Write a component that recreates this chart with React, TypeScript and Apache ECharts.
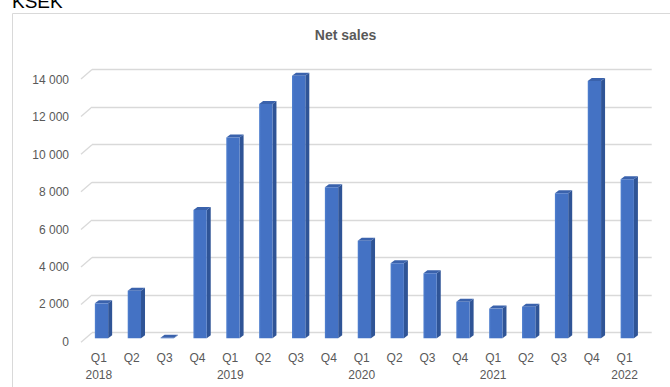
import React, { useEffect, useRef } from "react";
import * as echarts from "echarts";

const quarters = ["Q1", "Q2", "Q3", "Q4", "Q1", "Q2", "Q3", "Q4", "Q1", "Q2", "Q3", "Q4", "Q1", "Q2", "Q3", "Q4", "Q1"];
const years = ["2018", "", "", "", "2019", "", "", "", "2020", "", "", "", "2021", "", "", "", "2022"];
const netSales = [1860, 2530, 30, 6820, 10680, 12460, 13970, 8040, 5190, 3990, 3460, 1940, 1580, 1680, 7710, 13680, 8460];
const yTicks = [0, 2000, 4000, 6000, 8000, 10000, 12000, 14000];

const LABEL = "#595959";
const GRID = "#d9d9d9";
const FONT = "'Liberation Sans', Arial, sans-serif";

export default function App() {
  const ref = useRef<HTMLDivElement>(null);
  useEffect(() => {
    if (!ref.current) return;
    const chart = echarts.init(ref.current, undefined, { renderer: "svg" });
    const barW = 13.3;
    const dx = 4;
    const dy = -3;
    const option: any = {
      animation: false,
      grid: [
        { left: 85.07, right: 26.3, top: 75.1, bottom: 48.7 },
        { left: 92, right: 18.3, top: 69.5, bottom: 54.3 },
        { left: 81, right: 18, top: 80, bottom: 45.3 },
        { left: 82.4, right: 29, top: 75.1, bottom: 48.7 },
      ],
      xAxis: [
        { gridIndex: 0, type: "category", data: quarters, show: false },
        { gridIndex: 1, type: "value", min: 0, max: 1, show: false },
        { gridIndex: 2, type: "value", min: 0, max: 1, show: false },
        {
          gridIndex: 3,
          type: "category",
          data: quarters,
          axisLine: { show: false },
          axisTick: { show: false },
          axisLabel: {
            interval: 0,
            margin: 11,
            color: LABEL,
            fontFamily: FONT,
            fontSize: 12,
            lineHeight: 17,
            formatter: (v: string, i: number) => v + "\n" + years[i],
          },
        },
      ],
      yAxis: [
        { gridIndex: 0, type: "value", min: 0, max: 14000, show: false },
        {
          gridIndex: 1,
          type: "value",
          min: 0,
          max: 14000,
          interval: 2000,
          axisLine: { show: false },
          axisTick: { show: false },
          axisLabel: { show: false },
          splitLine: { show: true, lineStyle: { color: GRID, width: 1.3 } },
        },
        {
          gridIndex: 2,
          type: "value",
          min: 0,
          max: 14000,
          interval: 2000,
          axisLine: { show: false },
          axisTick: { show: false },
          splitLine: { show: false },
          axisLabel: {
            margin: 12,
            color: LABEL,
            fontFamily: FONT,
            fontSize: 12,
            formatter: (v: number) => (v >= 1000 ? Math.floor(v / 1000) + " " + String(v % 1000).padStart(3, "0") : String(v)),
          },
        },
        { gridIndex: 3, type: "value", min: 0, max: 14000, show: false },
      ],
      series: [
        {
          type: "custom",
          xAxisIndex: 1,
          yAxisIndex: 1,
          silent: true,
          data: yTicks.map((t) => [0, t]),
          renderItem: (params: any, api: any) => {
            const p = api.coord([0, api.value(1)]);
            return {
              type: "line",
              shape: { x1: p[0] - 11, y1: p[1] + 9.5, x2: p[0], y2: p[1] },
              style: { stroke: GRID, lineWidth: 1.3 },
            };
          },
        },
        {
          type: "custom",
          xAxisIndex: 0,
          yAxisIndex: 0,
          silent: true,
          data: netSales.map((v, i) => [i, v]),
          renderItem: (params: any, api: any) => {
            const i = api.value(0);
            const v = api.value(1);
            const base = api.coord([i, 0]);
            const top = api.coord([i, v]);
            const x0 = base[0] - barW / 2;
            const x1 = x0 + barW;
            const yt = top[1];
            const yb = base[1];
            return {
              type: "group",
              children: [
                {
                  type: "polygon",
                  shape: { points: [[x1, yt], [x1 + dx, yt + dy], [x1 + dx, yb + dy], [x1, yb]] },
                  style: { fill: "#2F5496" },
                },
                {
                  type: "polygon",
                  shape: { points: [[x0, yt], [x0 + dx, yt + dy], [x1 + dx, yt + dy], [x1, yt]] },
                  style: { fill: "#3A62AC" },
                },
                {
                  type: "rect",
                  shape: { x: x0, y: yt, width: barW, height: yb - yt },
                  style: {
                    fill: new echarts.graphic.LinearGradient(0, 0, 1, 0, [
                      { offset: 0, color: "#5080CF" },
                      { offset: 0.15, color: "#4472C4" },
                      { offset: 1, color: "#4472C4" },
                    ]),
                  },
                },
              ],
            };
          },
        },
      ],
      graphic: [
        {
          type: "rect",
          shape: { x: 12.5, y: 13.5, width: 700, height: 400 },
          style: { fill: "none", stroke: GRID, lineWidth: 1 },
          silent: true,
        },
        {
          type: "text",
          x: 12,
          y: 11,
          style: { text: "KSEK", font: `19px ${FONT}`, fill: "#000", textVerticalAlign: "bottom" },
        },
        {
          type: "text",
          x: 345.5,
          y: 35,
          style: {
            text: "Net sales",
            font: `bold 14px ${FONT}`,
            fill: LABEL,
            textAlign: "center",
            textVerticalAlign: "middle",
          },
        },
      ],
    };
    chart.setOption(option);
    return () => chart.dispose();
  }, []);
  return (
    <div
      ref={ref}
      style={{ position: "fixed", left: 0, top: 0, width: 670, height: 387, background: "#fff" }}
    />
  );
}
